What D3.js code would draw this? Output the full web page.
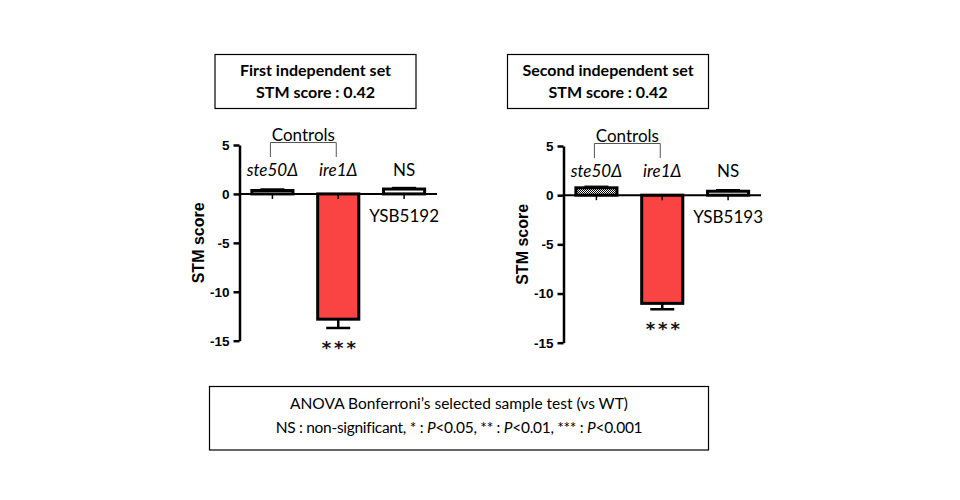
<!DOCTYPE html>
<html><head><meta charset="utf-8">
<script src="https://cdn.jsdelivr.net/npm/d3@7"></script>
<style>body{margin:0;background:#fff}svg{display:block}</style>
</head><body>
<script>
// ---- data ----
const categories1 = ["ste50Δ", "ire1Δ", "YSB5192"];
const values1 = [0.35, -12.8, 0.5];
const errors1 = [0.1, 0.9, 0.1];
const categories2 = ["ste50Δ", "ire1Δ", "YSB5193"];
const values2 = [0.75, -11.0, 0.4];
const errors2 = [0.1, 0.6, 0.1];
const yTicks = [5, 0, -5, -10, -15];
const titles1 = ["First independent set", "STM score : 0.42"];
const titles2 = ["Second independent set", "STM score : 0.42"];
const sigLabels = ["", "***", "NS"];

const svg = d3.select("body").append("svg").attr("width", 960).attr("height", 500);
const defs = svg.append("defs");
// dotted pattern
const p1 = defs.append("pattern").attr("id","dots").attr("patternUnits","userSpaceOnUse").attr("width",4).attr("height",4);
p1.append("rect").attr("width",4).attr("height",4).attr("fill","#fff");
p1.append("rect").attr("x",0).attr("y",1).attr("width",2).attr("height",1).attr("fill","#000");
// checker pattern
const p2 = defs.append("pattern").attr("id","checker").attr("patternUnits","userSpaceOnUse").attr("width",2).attr("height",2);
p2.append("rect").attr("width",2).attr("height",2).attr("fill","#fff");
p2.append("rect").attr("width",1).attr("height",1).attr("fill","#000");
p2.append("rect").attr("x",1).attr("y",1).attr("width",1).attr("height",1).attr("fill","#000");

const fills1 = ["url(#dots)", "#FA4343", "#fff"];
const fills2 = ["url(#checker)", "#FA4343", "#fff"];

function panel(cfg) {
  const g = svg.append("g");
  const x = d3.scaleBand().domain(cfg.cats).range([cfg.x0, cfg.x1]).paddingInner(0.33).paddingOuter(0.165);
  const y = d3.scaleLinear().domain([-15, 5]).range([cfg.yb, cfg.yt]);

  // title box
  g.append("rect").attr("x", cfg.boxX).attr("y", 54.5).attr("width", 201).attr("height", 54)
    .attr("fill","none").attr("stroke","#000").attr("stroke-width",1.2);
  cfg.titles.forEach((t,i) => g.append("text").attr("x", cfg.boxX+100.5).attr("y", 76 + i*22)
    .attr("text-anchor","middle").attr("font-family","Lato, 'Open Sans', sans-serif")
    .attr("font-weight","bold").attr("font-size",16).text(t));

  // y axis
  const ya = g.append("g").attr("transform",`translate(${cfg.x0},0)`)
    .call(d3.axisLeft(y).tickValues(yTicks).tickSize(6).tickSizeOuter(0).tickFormat(d3.format("d")));
  ya.select(".domain").attr("stroke-width",2.5);
  ya.selectAll(".tick line").attr("stroke-width",2.5);
  ya.selectAll(".tick text").attr("font-family","'Liberation Sans', Arial, sans-serif")
    .attr("font-weight","bold").attr("font-size",13.5).attr("dx",-1);
  ya.selectAll(".tick text").text(d => d < 0 ? "-" + Math.abs(d) : d);

  g.append("text").attr("transform",`translate(${cfg.x0-36},${(y(5)+y(-15))/2}) rotate(-90)`)
    .attr("text-anchor","middle").attr("font-family","'Liberation Sans', Arial, sans-serif")
    .attr("font-weight","bold").attr("font-size",16).text("STM score");

  // bars
  const bars = g.selectAll(".bar").data(cfg.vals).enter();
  // error bars
  bars.append("line")
    .attr("x1",(d,i)=>x(cfg.cats[i])+x.bandwidth()/2).attr("x2",(d,i)=>x(cfg.cats[i])+x.bandwidth()/2)
    .attr("y1",d=>y(d)).attr("y2",(d,i)=>y(d + (d<0?-1:1)*cfg.errs[i]))
    .attr("stroke","#000").attr("stroke-width",2.5);
  bars.append("line")
    .attr("x1",(d,i)=>x(cfg.cats[i])+x.bandwidth()/2-12).attr("x2",(d,i)=>x(cfg.cats[i])+x.bandwidth()/2+12)
    .attr("y1",(d,i)=>y(d + (d<0?-1:1)*cfg.errs[i])).attr("y2",(d,i)=>y(d + (d<0?-1:1)*cfg.errs[i]))
    .attr("stroke","#000").attr("stroke-width",2.5);
  bars.append("rect")
    .attr("x",(d,i)=>x(cfg.cats[i])+1.5).attr("width",x.bandwidth()-3)
    .attr("y",d=>Math.min(y(d),y(0))).attr("height",d=>Math.abs(y(d)-y(0)))
    .attr("fill",(d,i)=>cfg.fills[i]).attr("stroke","#000").attr("stroke-width",3);

  // x axis at zero
  const xa = g.append("g").attr("transform",`translate(0,${y(0)})`)
    .call(d3.axisBottom(x).tickSize(5).tickSizeOuter(0).tickFormat(""));
  xa.select(".domain").attr("stroke-width",2).attr("d",`M${cfg.x0},0H${cfg.x1}`);
  xa.selectAll(".tick line").attr("stroke-width",1.5);

  const tf = "Lato, 'Open Sans', sans-serif";
  // category labels
  [0,1].forEach(i => g.append("text").attr("x",x(cfg.cats[i])+x.bandwidth()/2).attr("y",y(5)+31)
    .attr("text-anchor","middle").attr("font-family",tf).attr("font-style","italic")
    .attr("font-size",17).text(cfg.cats[i]));
  g.append("text").attr("x",x(cfg.cats[2])+x.bandwidth()/2).attr("y",y(5)+31)
    .attr("text-anchor","middle").attr("font-family",tf).attr("font-size",17).text(sigLabels[2]);
  g.append("text").attr("x",x(cfg.cats[2])+x.bandwidth()/2).attr("y",y(0)+28)
    .attr("text-anchor","middle").attr("font-family",tf).attr("font-size",17).text(cfg.cats[2]);
  // stars
  g.append("text").attr("x",x(cfg.cats[1])+x.bandwidth()/2+2).attr("y",y(cfg.vals[1]-cfg.errs[1])+26)
    .attr("text-anchor","middle").attr("font-family","'DejaVu Sans', sans-serif").attr("font-size",18)
    .attr("font-weight","bold").attr("fill","#111").attr("letter-spacing",3).text(sigLabels[1]);

  // controls bracket
  const cx0 = x(cfg.cats[0])+x.bandwidth()/2-2, cx1 = x(cfg.cats[1])+x.bandwidth()/2-2;
  g.append("path").attr("d",`M${cx0},${y(5)+12}V${y(5)-2.5}H${cx1}V${y(5)+12}`)
    .attr("fill","none").attr("stroke","#555").attr("stroke-width",1);
  g.append("text").attr("x",(cx0+cx1)/2).attr("y",y(5)-4).attr("text-anchor","middle")
    .attr("font-family",tf).attr("font-size",17).text("Controls");
}

panel({cats:categories1, vals:values1, errs:errors1, fills:fills1, titles:titles1,
  x0:239.5, x1:437, yt:145, yb:340.7, boxX:215});
panel({cats:categories2, vals:values2, errs:errors2, fills:fills2, titles:titles2,
  x0:563.5, x1:761, yt:146, yb:342.7, boxX:507.5});

// footnote box
svg.append("rect").attr("x",209.5).attr("y",386.5).attr("width",499).attr("height",63.5)
  .attr("fill","none").attr("stroke","#000").attr("stroke-width",1.2);
const foot = svg.append("text").attr("x",459).attr("text-anchor","middle")
  .attr("font-family","Lato, 'Open Sans', sans-serif").attr("font-size",15.5);
foot.append("tspan").attr("x",459).attr("y",409).text("ANOVA Bonferroni’s selected sample test (vs WT)");
const l2 = foot.append("tspan").attr("x",459).attr("y",433).attr("letter-spacing",-0.3);
l2.append("tspan").text("NS : non-significant, * : ");
l2.append("tspan").attr("font-style","italic").text("P");
l2.append("tspan").text("<0.05, ** : ");
l2.append("tspan").attr("font-style","italic").text("P");
l2.append("tspan").text("<0.01, *** : ");
l2.append("tspan").attr("font-style","italic").text("P");
l2.append("tspan").text("<0.001");
</script>
</body></html>
